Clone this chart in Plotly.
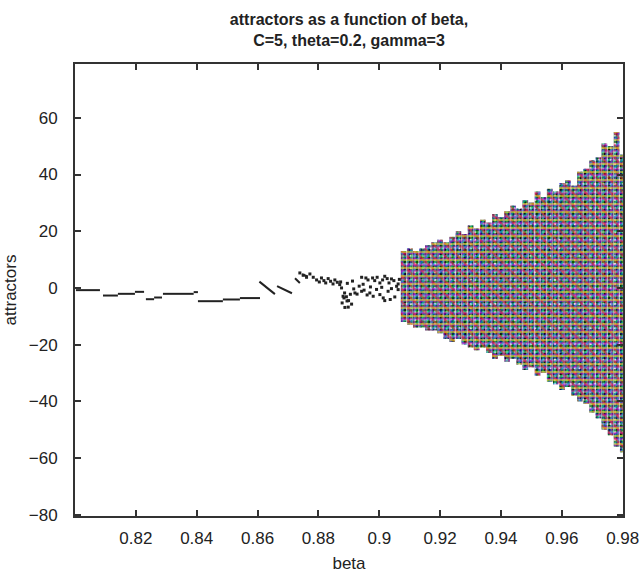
import plotly.graph_objects as go

# ---- periodic regime: short step segments (beta start/end, attractor start/end)
seg_beta_start = [0.8003, 0.8092, 0.8141, 0.8197, 0.8233, 0.8260, 0.8289, 0.8390, 0.8404, 0.8486, 0.8542,
                  0.8606, 0.8664, 0.8723, 0.8746]
seg_beta_end = [0.8082, 0.8141, 0.8197, 0.8227, 0.8260, 0.8286, 0.8390, 0.8404, 0.8486, 0.8542, 0.8608,
                0.8657, 0.8713, 0.8739, 0.8765]
seg_attr_start = [-0.8, -2.7, -2.1, -1.4, -4.0, -3.4, -2.1, -1.5, -4.7, -4.1, -3.6,
                  2.2, 0.6, 3.4, 4.8]
seg_attr_end = [-0.8, -2.7, -2.1, -1.4, -4.0, -3.4, -2.1, -1.5, -4.7, -4.1, -3.6,
                -2.2, -1.9, 1.7, 4.0]

# ---- onset of chaos: scattered attractor points
dot_beta = [0.8739, 0.8750, 0.8761, 0.8772, 0.8783, 0.8794, 0.8803, 0.8810, 0.8818, 0.8824,
            0.8832, 0.8840, 0.8848, 0.8854, 0.8862, 0.8870, 0.8876, 0.8881, 0.8886, 0.8894,
            0.8884, 0.8905, 0.8878, 0.8916, 0.8898, 0.8927, 0.8934, 0.8942, 0.8892, 0.8909,
            0.8920, 0.8887, 0.8899, 0.8942, 0.8947, 0.8956, 0.8963, 0.8971, 0.8978, 0.8985,
            0.8993, 0.9002, 0.9011, 0.9018, 0.9026, 0.9032, 0.9040, 0.9048, 0.9057, 0.9062,
            0.8969, 0.8980, 0.8991, 0.9002, 0.9013, 0.9018, 0.9029, 0.9040, 0.9051, 0.9062,
            0.8873, 0.8895, 0.8912, 0.8950, 0.8960, 0.9008, 0.9036, 0.9066]
dot_attr = [5.27, 4.44, 3.74, 4.91, 3.74, 2.80, 2.09, 3.50, 2.56, 1.74,
            3.27, 2.33, 1.39, 2.80, 1.98, 1.15, -0.02, -2.96, -1.79, -4.61,
            -3.55, -2.26, -5.32, -0.37, -6.79, -2.20, 0.61, -1.21, -3.14, -5.73,
            -1.79, -6.90, -4.49, 3.74, 1.27, 3.50, 2.80, 0.33, 3.50, 2.56,
            3.74, 1.74, 2.80, 4.09, 3.27, 1.74, 3.15, 2.56, 0.56, 1.39,
            -1.79, -2.96, -0.55, -2.37, -3.55, -4.49, -1.20, -0.26, -3.20, -0.61,
            2.10, 1.60, 2.40, -0.80, -2.50, 0.20, -4.10, 3.00]

# ---- chaotic regime: extent of the attractor per beta column
chaos_beta = [0.908, 0.910, 0.912, 0.914, 0.916, 0.918, 0.920, 0.922, 0.924, 0.926,
              0.928, 0.930, 0.932, 0.934, 0.936, 0.938, 0.940, 0.942, 0.944, 0.946,
              0.948, 0.950, 0.952, 0.954, 0.956, 0.958, 0.960, 0.962, 0.964, 0.966,
              0.968, 0.970, 0.972, 0.974, 0.976, 0.978, 0.980]
chaos_high = [13, 14, 13, 14, 15, 16, 17, 16, 18, 20,
              19, 22, 21, 24, 23, 26, 25, 27, 29, 28,
              31, 30, 34, 32, 35, 34, 37, 38, 36, 41,
              42, 45, 46, 51, 50, 55, 47]
chaos_low = [-12, -13, -14, -14, -15, -15, -16, -18, -19, -18,
             -20, -21, -22, -21, -23, -25, -24, -26, -25, -27,
             -29, -28, -31, -30, -33, -34, -36, -35, -38, -40,
             -41, -44, -46, -50, -52, -56, -58]

x_tick_vals = [0.82, 0.84, 0.86, 0.88, 0.90, 0.92, 0.94, 0.96, 0.98]
x_tick_text = ["0.82", "0.84", "0.86", "0.88", "0.9", "0.92", "0.94", "0.96", "0.98"]
y_tick_vals = [-80, -60, -40, -20, 0, 20, 40, 60]

FONT = "Liberation Sans, Arial, sans-serif"

fig = go.Figure()

# chaotic band: layered speckle patterns
heights = [h - l for h, l in zip(chaos_high, chaos_low)]
layers = [
    dict(bg="white", fg="#101010", shape=".", size=4, sol=0.65, mode="replace"),
    dict(bg="rgba(0,0,0,0)", fg="#00b000", shape=".", size=5, sol=0.6, mode="overlay"),
    dict(bg="rgba(0,0,0,0)", fg="#0000ff", shape="x", size=7, sol=0.35, mode="overlay"),
    dict(bg="rgba(0,0,0,0)", fg="#ff00ff", shape="+", size=6, sol=0.4, mode="overlay"),
    dict(bg="rgba(0,0,0,0)", fg="#00d8d8", shape="/", size=5, sol=0.3, mode="overlay"),
    dict(bg="rgba(0,0,0,0)", fg="#ff2020", shape="\\", size=9, sol=0.25, mode="overlay"),
    dict(bg="rgba(0,0,0,0)", fg="#e0c800", shape="-", size=8, sol=0.25, mode="overlay"),
]
for L in layers:
    fig.add_trace(go.Bar(
        x=chaos_beta, y=heights, base=chaos_low, width=0.0018,
        marker=dict(color=L["bg"], line=dict(width=0),
                    pattern=dict(shape=L["shape"], fgcolor=L["fg"], bgcolor=L["bg"],
                                 size=L["size"], solidity=L["sol"], fillmode=L["mode"])),
        hoverinfo="skip", showlegend=False,
    ))

# periodic segments
sx, sy = [], []
for a, b, c, d in zip(seg_beta_start, seg_beta_end, seg_attr_start, seg_attr_end):
    sx += [a, b, None]
    sy += [c, d, None]
fig.add_trace(go.Scatter(x=sx, y=sy, mode="lines", line=dict(color="#222222", width=2),
                         hoverinfo="skip", showlegend=False))

fig.add_trace(go.Scatter(x=dot_beta, y=dot_attr, mode="markers",
                         marker=dict(color="#222222", size=3, symbol="square"),
                         hoverinfo="skip", showlegend=False))

fig.update_layout(
    width=642, height=578,
    margin=dict(l=75, r=19, t=64, b=62, autoexpand=False),
    paper_bgcolor="white", plot_bgcolor="white",
    barmode="overlay",
    font=dict(family=FONT, size=17, color="#222222"),
    title=dict(text="<b>attractors as a function of beta,<br>C=5, theta=0.2, gamma=3</b>",
               x=0.5, xref="paper", xanchor="center",
               y=1 - 25 / 578, yref="container", yanchor="middle",
               font=dict(family=FONT, size=16, color="#222222")),
    xaxis=dict(range=[0.80, 0.9801], tickvals=x_tick_vals, ticktext=x_tick_text,
               showline=True, linecolor="#333333", linewidth=2, mirror="allticks",
               ticks="inside", ticklen=6, tickwidth=1.5, tickcolor="#333333",
               showgrid=False, zeroline=False, ticklabelstandoff=6,
               title=dict(text="beta", standoff=10, font=dict(size=17))),
    yaxis=dict(range=[-80.5, 79], tickvals=y_tick_vals,
               showline=True, linecolor="#333333", linewidth=2, mirror="allticks",
               ticks="inside", ticklen=6, tickwidth=1.5, tickcolor="#333333",
               showgrid=False, zeroline=False, ticklabelstandoff=12,
               title=dict(text="attractors", standoff=8, font=dict(size=17))),
)

fig.write_html("out.html")
